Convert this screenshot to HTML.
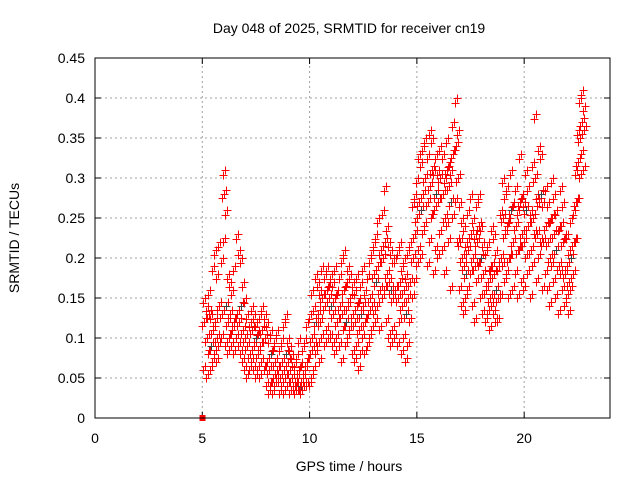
<!DOCTYPE html>
<html><head><meta charset="utf-8"><style>
body{margin:0;background:#fff;}
svg{display:block;font-family:"Liberation Sans",sans-serif;}
</style></head><body>
<svg id="chart" width="640" height="480" viewBox="0 0 640 480" xmlns="http://www.w3.org/2000/svg">
<rect width="640" height="480" fill="#fff"/>
<text x="349" y="33" text-anchor="middle" font-size="14">Day 048 of 2025, SRMTID for receiver cn19</text>
<text x="349" y="471" text-anchor="middle" font-size="14">GPS time / hours</text>
<text transform="translate(19,238) rotate(-90)" text-anchor="middle" font-size="14">SRMTID / TECUs</text>
<g id="grid"></g>
<g id="ticks"></g>
<g id="marks" shape-rendering="crispEdges"></g>
<rect x="95" y="58" width="515" height="360" fill="none" stroke="#000" stroke-width="1"/>
</svg>
<script>
const xTicks=[0,5,10,15,20];
const yTicks=[0,0.05,0.1,0.15,0.2,0.25,0.3,0.35,0.4,0.45];
const yTickLabels=["0","0.05","0.1","0.15","0.2","0.25","0.3","0.35","0.4","0.45"];
const times=[5.1,5.2,5.3,5.4,5.5,5.6,5.7,5.8,5.9,
6.0,6.1,6.2,6.3,6.4,6.5,6.6,6.7,6.8,6.9,
7.0,7.1,7.2,7.3,7.4,7.5,7.6,7.7,7.8,7.9,
8.0,8.1,8.2,8.3,8.4,8.5,8.6,8.7,8.8,8.9,
9.0,9.1,9.2,9.3,9.4,9.5,9.6,9.7,9.8,9.9,
10.0,10.1,10.2,10.3,10.4,10.5,10.6,10.7,10.8,10.9,
11.0,11.1,11.2,11.3,11.4,11.5,11.6,11.7,11.8,11.9,
12.0,12.1,12.2,12.3,12.4,12.5,12.6,12.7,12.8,12.9,
13.0,13.1,13.2,13.3,13.4,13.5,13.6,13.7,13.8,13.9,
14.0,14.1,14.2,14.3,14.4,14.5,14.6,14.7,14.8,14.9,
15.0,15.1,15.2,15.3,15.4,15.5,15.6,15.7,15.8,15.9,
16.0,16.1,16.2,16.3,16.4,16.5,16.6,16.7,16.8,16.9,
17.0,17.1,17.2,17.3,17.4,17.5,17.6,17.7,17.8,17.9,
18.0,18.1,18.2,18.3,18.4,18.5,18.6,18.7,18.8,18.9,
19.0,19.1,19.2,19.3,19.4,19.5,19.6,19.7,19.8,19.9,
20.0,20.1,20.2,20.3,20.4,20.5,20.6,20.7,20.8,20.9,
21.0,21.1,21.2,21.3,21.4,21.5,21.6,21.7,21.8,21.9,
22.0,22.1,22.2,22.3,22.4,22.5,22.6,22.7,22.8];
const midValues=[.12,.10,.13,.09,.11,.12,.10,.14,.13,
.28,.14,.12,.13,.11,.12,.13,.12,.14,.11,
.10,.09,.08,.11,.09,.10,.08,.09,.11,.10,
.07,.06,.08,.05,.07,.06,.05,.07,.06,.08,
.07,.06,.05,.04,.05,.06,.04,.05,.06,.07,
.08,.10,.09,.12,.13,.12,.15,.14,.16,.15,
.14,.13,.15,.12,.14,.13,.16,.12,.14,.15,
.13,.12,.14,.11,.13,.14,.12,.13,.15,.14,
.18,.17,.19,.16,.20,.22,.18,.17,.16,.15,
.16,.15,.17,.14,.16,.13,.15,.17,.20,.23,
.25,.27,.26,.28,.30,.27,.29,.31,.26,.28,
.27,.30,.28,.25,.31,.29,.27,.33,.34,.30,
.22,.20,.19,.18,.21,.23,.20,.19,.22,.24,
.20,.18,.16,.17,.15,.19,.18,.16,.15,.20,
.25,.23,.24,.20,.26,.22,.24,.21,.27,.23,
.22,.26,.24,.21,.25,.30,.23,.27,.28,.22,
.24,.22,.20,.25,.23,.21,.19,.24,.22,.18,
.19,.17,.20,.22,.27,.32,.35,.37,.36];
const highValues=[.15,.14,.16,.13,.19,.21,.18,.22,.20,
.31,.26,.18,.17,.16,.19,.23,.21,.20,.17,
.15,.13,.12,.14,.13,.12,.11,.13,.14,.13,
.12,.10,.11,.09,.10,.11,.09,.10,.12,.13,
.10,.09,.08,.07,.08,.10,.07,.09,.10,.12,
.13,.16,.14,.18,.17,.16,.19,.18,.19,.17,
.18,.17,.19,.16,.18,.20,.21,.17,.19,.18,
.17,.16,.18,.15,.17,.19,.16,.18,.20,.21,
.22,.23,.25,.21,.26,.29,.24,.22,.21,.20,
.20,.21,.22,.19,.20,.18,.21,.22,.27,.28,
.30,.33,.32,.34,.35,.33,.36,.35,.31,.33,
.31,.34,.33,.30,.35,.32,.31,.37,.40,.36,
.27,.25,.24,.22,.26,.28,.25,.23,.27,.28,
.24,.22,.21,.22,.19,.24,.23,.21,.19,.26,
.30,.28,.29,.25,.31,.27,.29,.26,.33,.28,
.27,.31,.29,.26,.32,.38,.28,.34,.33,.27,
.29,.27,.25,.30,.28,.26,.24,.29,.27,.23,
.23,.21,.25,.26,.31,.36,.40,.41,.39];
const lowValues=[.06,.05,.08,.06,.07,.08,.07,.09,.10,
.22,.09,.08,.10,.09,.08,.10,.09,.08,.07,
.06,.05,.06,.07,.06,.05,.06,.05,.07,.06,
.04,.03,.04,.03,.04,.05,.03,.04,.03,.05,
.04,.03,.035,.03,.04,.035,.03,.035,.04,.04,
.04,.05,.06,.08,.09,.07,.10,.09,.11,.10,
.10,.09,.08,.10,.09,.07,.11,.09,.10,.11,
.08,.07,.09,.06,.08,.10,.08,.09,.10,.11,
.13,.12,.14,.11,.15,.16,.12,.10,.09,.11,
.10,.09,.12,.08,.10,.07,.09,.12,.15,.17,
.19,.21,.20,.23,.24,.19,.22,.25,.18,.21,
.20,.23,.21,.18,.24,.22,.16,.25,.27,.22,
.16,.14,.13,.15,.16,.18,.14,.12,.17,.19,
.15,.13,.12,.13,.11,.14,.13,.12,.12,.15,
.19,.17,.18,.15,.20,.16,.18,.15,.21,.17,
.16,.20,.18,.15,.19,.23,.17,.20,.22,.16,
.18,.16,.14,.19,.17,.15,.13,.18,.16,.14,
.15,.13,.16,.18,.22,.27,.30,.33,.31];
const squareTimes=[5.0];
const squareValues=[0.0];

const NS="http://www.w3.org/2000/svg";
const X0=95,X1=610,Y0=418,Y1=58,XMAX=24,YMAX=0.45;
function xs(t){return X0+(X1-X0)*t/XMAX;}
function ys(v){return Y0-(Y0-Y1)*v/YMAX;}
function mk(tag,attrs,parent){const e=document.createElementNS(NS,tag);for(const k in attrs)e.setAttribute(k,attrs[k]);parent.appendChild(e);return e;}
const grid=document.getElementById('grid'),ticks=document.getElementById('ticks'),marks=document.getElementById('marks');
xTicks.forEach(t=>{const x=xs(t);
 if(t>0){const g=mk('line',{x1:x,y1:Y0,x2:x,y2:Y1,stroke:'#a0a0a0','stroke-dasharray':'2,3'},grid);
 
 }
 mk('line',{x1:x,y1:Y0,x2:x,y2:Y0-6,stroke:'#000'},ticks);
 mk('line',{x1:x,y1:Y1,x2:x,y2:Y1+6,stroke:'#000'},ticks);
 const l=mk('text',{x:x,y:Y0+25,'text-anchor':'middle','font-size':'14'},ticks);l.textContent=t;
 
 
});
yTicks.forEach((v,i)=>{const y=ys(v);
 if(v>0&&v<YMAX){const g=mk('line',{x1:X0,y1:y,x2:X1,y2:y,stroke:'#a0a0a0','stroke-dasharray':'2,3'},grid);
 
 }
 mk('line',{x1:X0,y1:y,x2:X0+6,y2:y,stroke:'#000'},ticks);
 mk('line',{x1:X1,y1:y,x2:X1-6,y2:y,stroke:'#000'},ticks);
 const l=mk('text',{x:X0-10,y:y+5,'text-anchor':'end','font-size':'14'},ticks);l.textContent=yTickLabels[i];
 
 
});
function plus(t,v,color,dx,dy){const x=Math.round(xs(t)+dx)+0.5,y=Math.round(ys(v)+dy)+0.5;
 const p=mk('path',{d:`M${x-4},${y}h8M${x},${y-4}v8`,stroke:color,'stroke-width':'1',fill:'none'},marks);
 
 
}
times.forEach((t,i)=>{
 plus(t,lowValues[i],'#ff0000',-1,0);
 plus(t,lowValues[i],'#ff0000',1,-4);
 plus(t,highValues[i],'#ff0000',1,0);
 plus(t,highValues[i],'#ff0000',-1,5);
 plus(t,midValues[i],'#ff0000',-2,4);
 plus(t,midValues[i],'#ff0000',2,-4);
 plus(t,midValues[i],i%7===3?'#404040':'#ff0000',0,0);
});
squareTimes.forEach((t,i)=>{
 const r=mk('rect',{x:xs(t)-3,y:ys(squareValues[i])-3,width:6,height:6,fill:'#ff0000'},marks);
 
 
});
</script>
</body></html>
